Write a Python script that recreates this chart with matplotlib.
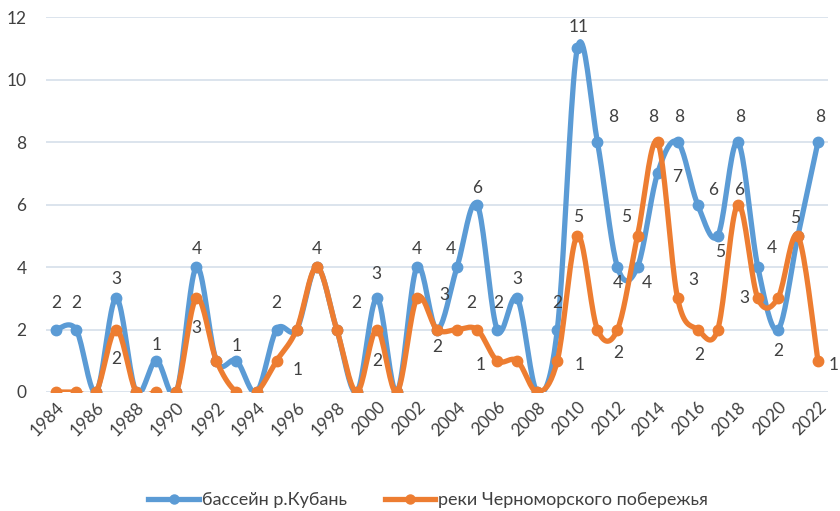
import numpy as np
import matplotlib
matplotlib.use("Agg")
import matplotlib.pyplot as plt
from matplotlib.lines import Line2D

plt.rcParams['font.family'] = ['Lato', 'DejaVu Sans']

years = list(range(1984, 2023))
kuban = [2, 2, 0, 3, 0, 1, 0, 4, 1, 1, 0, 2, 2, 4, 2, 0, 3, 0, 4, 2,
         4, 6, 2, 3, 0, 2, 11, 8, 4, 4, 7, 8, 6, 5, 8, 4, 2, 5, 8]
coast = [0, 0, 0, 2, 0, 0, 0, 3, 1, 0, 0, 1, 2, 4, 2, 0, 2, 0, 3, 2,
         2, 2, 1, 1, 0, 1, 5, 2, 2, 5, 8, 3, 2, 2, 6, 3, 3, 5, 1]
series_names = ["бассейн р.Кубань", "реки Черноморского побережья"]
yticks = [0, 2, 4, 6, 8, 10, 12]
xticks = list(range(1984, 2023, 2))

# label offsets in pixels (dx, dy) with dy positive = down on screen
kuban_lbl = {1984: (0, -26), 1985: (0, -26), 1987: (0, -19), 1989: (0, -16),
             1991: (0, -18), 1993: (0, -15), 1995: (0, -26), 1998: (19, -27),
             1997: (0, -18), 2000: (0, -24), 2002: (0, -18), 2004: (-6, -18),
             2005: (0, -17), 2006: (1, -27), 2007: (0, -19), 2009: (0, -27),
             2010: (1, -21), 2011: (16, -25), 2012: (0, 16), 2013: (9, 16),
             2014: (20, 4), 2015: (2, -25), 2016: (15, -15), 2017: (2, 16),
             2018: (2, -25), 2019: (14, -19), 2020: (0, 22), 2021: (-3, -18),
             2022: (2, -25)}
coast_lbl = {1987: (0, 30), 1991: (0, 30), 1995: (21, 9), 2000: (0, 31),
             2002: (27, -3), 2003: (0, 17), 2005: (-6, -27), 2006: (-17, 4),
             2009: (22, 4), 2010: (1, -19), 2012: (1, 24), 2013: (-11, -19),
             2014: (-4, -25), 2015: (16, -18), 2016: (2, 25), 2018: (1, -15),
             2019: (-13, 0), 2022: (16, 4)}

BLUE = "#5B9BD5"
ORANGE = "#ED7D31"
GRID = "#D6DFEA"
TXT = "#404040"


def smooth(x, y, n=20):
    x = np.asarray(x, float)
    y = np.asarray(y, float)
    xs, ys = [], []
    m = len(x)
    for i in range(m - 1):
        p0 = np.array([x[i], y[i]])
        p3 = np.array([x[i + 1], y[i + 1]])
        pm = np.array([x[i - 1], y[i - 1]]) if i > 0 else p0
        pp = np.array([x[i + 2], y[i + 2]]) if i + 2 < m else p3
        c1 = p0 + (p3 - pm) / 6.0
        c2 = p3 - (pp - p0) / 6.0
        t = np.linspace(0, 1, n, endpoint=(i == m - 2))[:, None]
        pts = ((1 - t) ** 3) * p0 + 3 * ((1 - t) ** 2) * t * c1 + 3 * (1 - t) * t ** 2 * c2 + t ** 3 * p3
        xs.append(pts[:, 0])
        ys.append(pts[:, 1])
    return np.concatenate(xs), np.concatenate(ys)


fig = plt.figure(figsize=(8.4, 5.11), dpi=100)
ax = fig.add_axes([46 / 840, 1 - 392 / 511, (828 - 46) / 840, (392 - 17) / 511])

for vals, col, lbls, z in [(kuban, BLUE, kuban_lbl, 3), (coast, ORANGE, coast_lbl, 4)]:
    sx, sy = smooth(years, vals)
    ax.plot(sx, sy, color=col, lw=3.8, zorder=z, solid_capstyle='round',
            solid_joinstyle='round')
    ax.plot(years, vals, 'o', color=col, ms=7.5, zorder=z)
    for yr, v in zip(years, vals):
        if yr in lbls:
            dx, dy = lbls[yr]
            ax.annotate(str(v), (yr, v), xytext=(dx, -dy), textcoords='offset pixels',
                        ha='center', va='center', fontsize=12.5, color=TXT, zorder=6)

ax.set_xlim(1983.5, 2022.5)
ax.set_ylim(0, 12)
ax.set_yticks(yticks)
ax.set_xticks(xticks)
ax.set_xticklabels([str(t) for t in xticks], rotation=45, ha='right',
                   rotation_mode='anchor', fontsize=12.5, color=TXT)
ax.tick_params(axis='y', length=0, labelsize=12.5, labelcolor=TXT, pad=14)
ax.tick_params(axis='x', length=0, pad=5)
ax.grid(axis='y', color=GRID, lw=1.2)
ax.set_axisbelow(True)
for s in ax.spines.values():
    s.set_visible(False)

handles = [Line2D([], [], color=BLUE, lw=3.8, marker='o', ms=6.5),
           Line2D([], [], color=ORANGE, lw=3.8, marker='o', ms=6.5)]
fig.legend(handles, series_names, loc='center', bbox_to_anchor=(428 / 840, 1 - 500 / 511),
           ncol=2, frameon=False, fontsize=13, handlelength=2.8, handletextpad=0.15,
           columnspacing=2.1, labelcolor=TXT)

fig.savefig("out.png", dpi=100)
